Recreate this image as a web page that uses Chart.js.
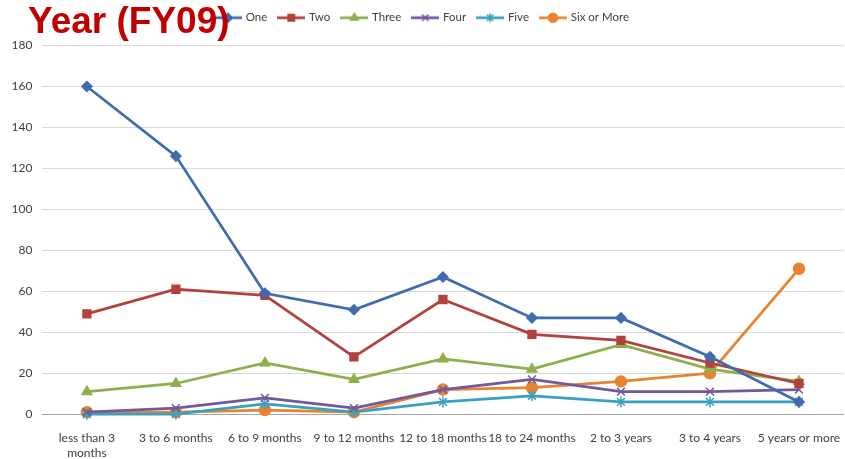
<!DOCTYPE html>
<html><head><meta charset="utf-8">
<script src="https://cdn.jsdelivr.net/npm/chart.js@4"></script>
<style>html,body{margin:0;padding:0;background:#fff}#wrap{width:845px;height:459px;position:relative}</style>
</head><body><div id="wrap"><canvas id="c"></canvas></div>
<script>
const categories = [["less than 3","months"],"3 to 6 months","6 to 9 months","9 to 12 months","12 to 18 months","18 to 24 months","2 to 3 years","3 to 4 years","5 years or more"];
const seriesNames = ["One","Two","Three","Four","Five","Six or More"];
const one   = [160,126,59,51,67,47,47,28,6];
const two   = [49,61,58,28,56,39,36,25,15];
const three = [11,15,25,17,27,22,34,22,16];
const four  = [1,3,8,3,12,17,11,11,12];
const five  = [0,0,5,1,6,9,6,6,6];
const six   = [1,1,2,1,12,13,16,20,71];
const yTicks = [0,20,40,60,80,100,120,140,160,180];
const titleText = "Year (FY09)";

const colors = ["#3F6CAF","#B3413E","#8DB04A","#72589C","#3AA0BF","#E8832F"];
const styles = ["rectRot","rect","triangle","crossRot","star","circle"];
const radii = [5,5.5,5.5,5.5,5.5,5.5];
const values = [one,two,three,four,five,six];

function legendImg(color, style){
  const cv = document.createElement('canvas');
  cv.width = 28; cv.height = 14;
  const ctx = cv.getContext('2d');
  ctx.strokeStyle = color; ctx.lineWidth = 2.75;
  ctx.beginPath(); ctx.moveTo(0,7); ctx.lineTo(28,7); ctx.stroke();
  ctx.fillStyle = color; ctx.strokeStyle = color; ctx.lineWidth = 1.5;
  Chart.helpers.drawPoint(ctx, {pointStyle: style, rotation:0, borderWidth:1.5, radius:4.5}, 14, 7);
  return cv;
}

const datasets = seriesNames.map((n,i)=>({
  label:n, data:values[i], borderColor:colors[i], backgroundColor:colors[i],
  borderWidth:2.75, pointStyle:styles[i], pointRadius:radii[i], pointBorderWidth:1.5,
  pointHoverRadius:radii[i], tension:0, clip:false
}));

const titlePlugin = {
  id:'bigTitle',
  beforeInit(chart){
    const lg = chart.legend;
    if (lg){
      const fit = lg.fit;
      lg.fit = function(){ fit.call(this); this.height += 12; };
    }
  },
  afterDraw(chart){
    const ctx = chart.ctx;
    ctx.save();
    ctx.font = 'bold 37px "Liberation Sans", Arial, sans-serif';
    ctx.fillStyle = '#C00000';
    ctx.textBaseline = 'alphabetic';
    ctx.fillText(titleText, 28, 33);
    ctx.restore();
  }
};

new Chart(document.getElementById('c'), {
  type:'line',
  data:{labels:categories, datasets},
  options:{
    responsive:true, maintainAspectRatio:false, animation:false,
    layout:{autoPadding:false, padding:{left:1.5,right:1.5,top:0,bottom:-4}},
    plugins:{
      legend:{
        position:'top',
        labels:{
          usePointStyle:true, pointStyleWidth:24, boxHeight:12,
          color:'#404040', font:{family:'Lato, sans-serif', size:11.5},
          padding:12,
          generateLabels(chart){
            return chart.data.datasets.map((d,i)=>({
              text:d.label, pointStyle:legendImg(colors[i],styles[i]),
              fillStyle:colors[i], strokeStyle:colors[i], lineWidth:0,
              datasetIndex:i, hidden:false, fontColor:'#404040'
            }));
          }
        }
      },
      tooltip:{enabled:false}
    },
    scales:{
      x:{
        offset:true,
        afterFit(scale){ scale.paddingLeft = 0; scale.paddingRight = 0; },
        grid:{display:true, drawOnChartArea:false, drawTicks:true, tickLength:14, tickColor:'rgba(0,0,0,0)', color:'rgba(0,0,0,0)'},
        border:{display:true, color:'#A6A6A6', width:1},
        ticks:{color:'#404040', font:{family:'Lato, sans-serif', size:12}, maxRotation:0, autoSkip:false, padding:3}
      },
      y:{
        min:0, max:180,
        afterBuildTicks(axis){ axis.ticks = yTicks.map(v=>({value:v})); },
        grid:{color:'#D9D9D9', drawTicks:false},
        border:{display:false},
        ticks:{color:'#404040', font:{family:'Lato, sans-serif', size:12}, padding:10}
      }
    }
  },
  plugins:[titlePlugin]
});
</script></body></html>
